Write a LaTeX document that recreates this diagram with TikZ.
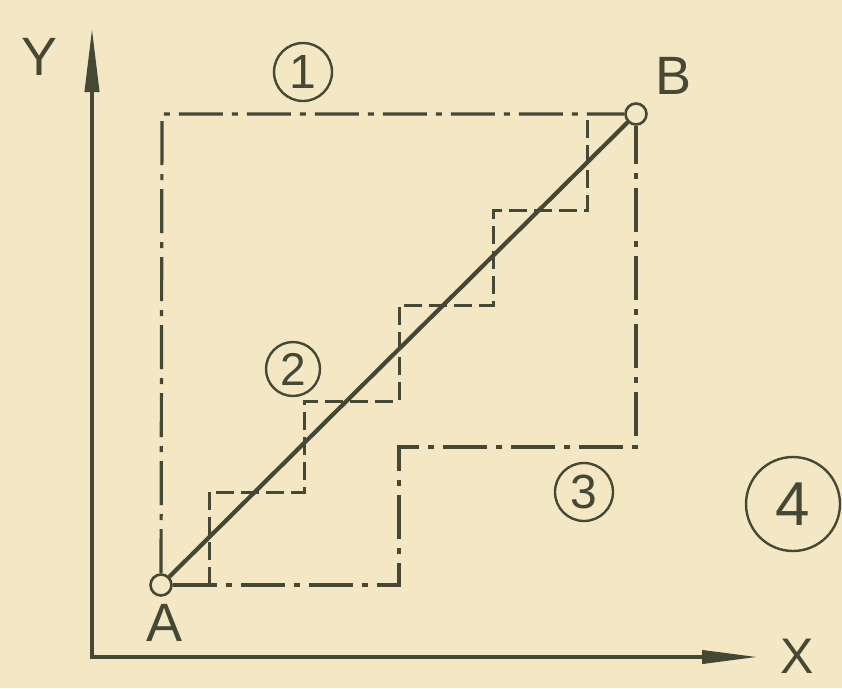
\documentclass[tikz,border=0pt]{standalone}
\usepackage{fontspec}
\setmainfont{Liberation Sans}
\usetikzlibrary{arrows.meta}
\definecolor{paper}{RGB}{243,232,195}
\definecolor{ink}{RGB}{70,72,54}
\begin{document}
\begin{tikzpicture}[x=1pt,y=-1pt,
  axisline/.style={ink,line width=4pt},
  mainline/.style={ink,line width=4.2pt},
  ddline/.style={ink,line width=3.2pt,dash pattern=on 44pt off 9pt on 6pt off 9pt},
  stairline/.style={ink,line width=3pt,dash pattern=on 18pt off 7pt},
  ptnode/.style={circle,draw=ink,line width=2.6pt,fill=paper,inner sep=0pt,minimum size=21pt},
  numnode/.style={circle,draw=ink,line width=2.4pt,inner sep=0pt,text=ink},
  lettr/.style={text=ink,inner sep=0pt,font=\fontsize{54}{54}\selectfont}
]
\fill[paper] (0,0) rectangle (842,688);
\useasboundingbox (0,0) rectangle (842,688);
% axes
\coordinate (O) at (92,657);
\coordinate (Ytip) at (92,28);
\coordinate (Xstart) at (90,657);
\coordinate (Xtip) at (758,657);
\draw[axisline,-{Triangle[length=64pt,width=14pt]}] (O) -- (Ytip);
\draw[axisline,-{Triangle[length=56pt,width=13pt]}] (Xstart) -- (Xtip);
\node[lettr] (ylab) at (40,57) {Y};
\node[lettr,font=\fontsize{50}{50}\selectfont] (xlab) at (797,656) {X};
% corners
\coordinate (TL) at (162,114);
\coordinate (C1) at (399,585);
\coordinate (C2) at (399,447);
\coordinate (C3) at (636,447);
% points
\node[ptnode] (A) at (161,585) {};
\node[ptnode] (B) at (636,114) {};
\node[lettr] (alab) at (165,623) {A};
\node[lettr] (blab) at (673,76) {B};
% stairs
\coordinate (S0) at (209,585);
\coordinate (S1) at (587,114);
\draw[stairline] (S0) -- (209,492) -- (304,492) -- (304,401) -- (399,401) -- (399,305) -- (493,305) -- (493,210) -- (587,210) -- (S1);
% region outlines
\draw[ddline] (A) -- (TL) -- (B);
\draw[ddline] (A) -- (C1) -- (C2) -- (C3) -- (B);
% diagonal
\draw[mainline] (A) -- (B);
% circled labels
\node[numnode,minimum size=58pt,font=\fontsize{48}{48}\selectfont] (n1) at (303,72) {1};
\node[numnode,minimum size=54pt,font=\fontsize{46}{46}\selectfont] (n2) at (293,369) {2};
\node[numnode,minimum size=58pt,font=\fontsize{48}{48}\selectfont] (n3) at (584,492) {3};
\node[numnode,minimum size=94pt,font=\fontsize{62}{62}\selectfont] (n4) at (793,504) {4};
\end{tikzpicture}
\end{document}
